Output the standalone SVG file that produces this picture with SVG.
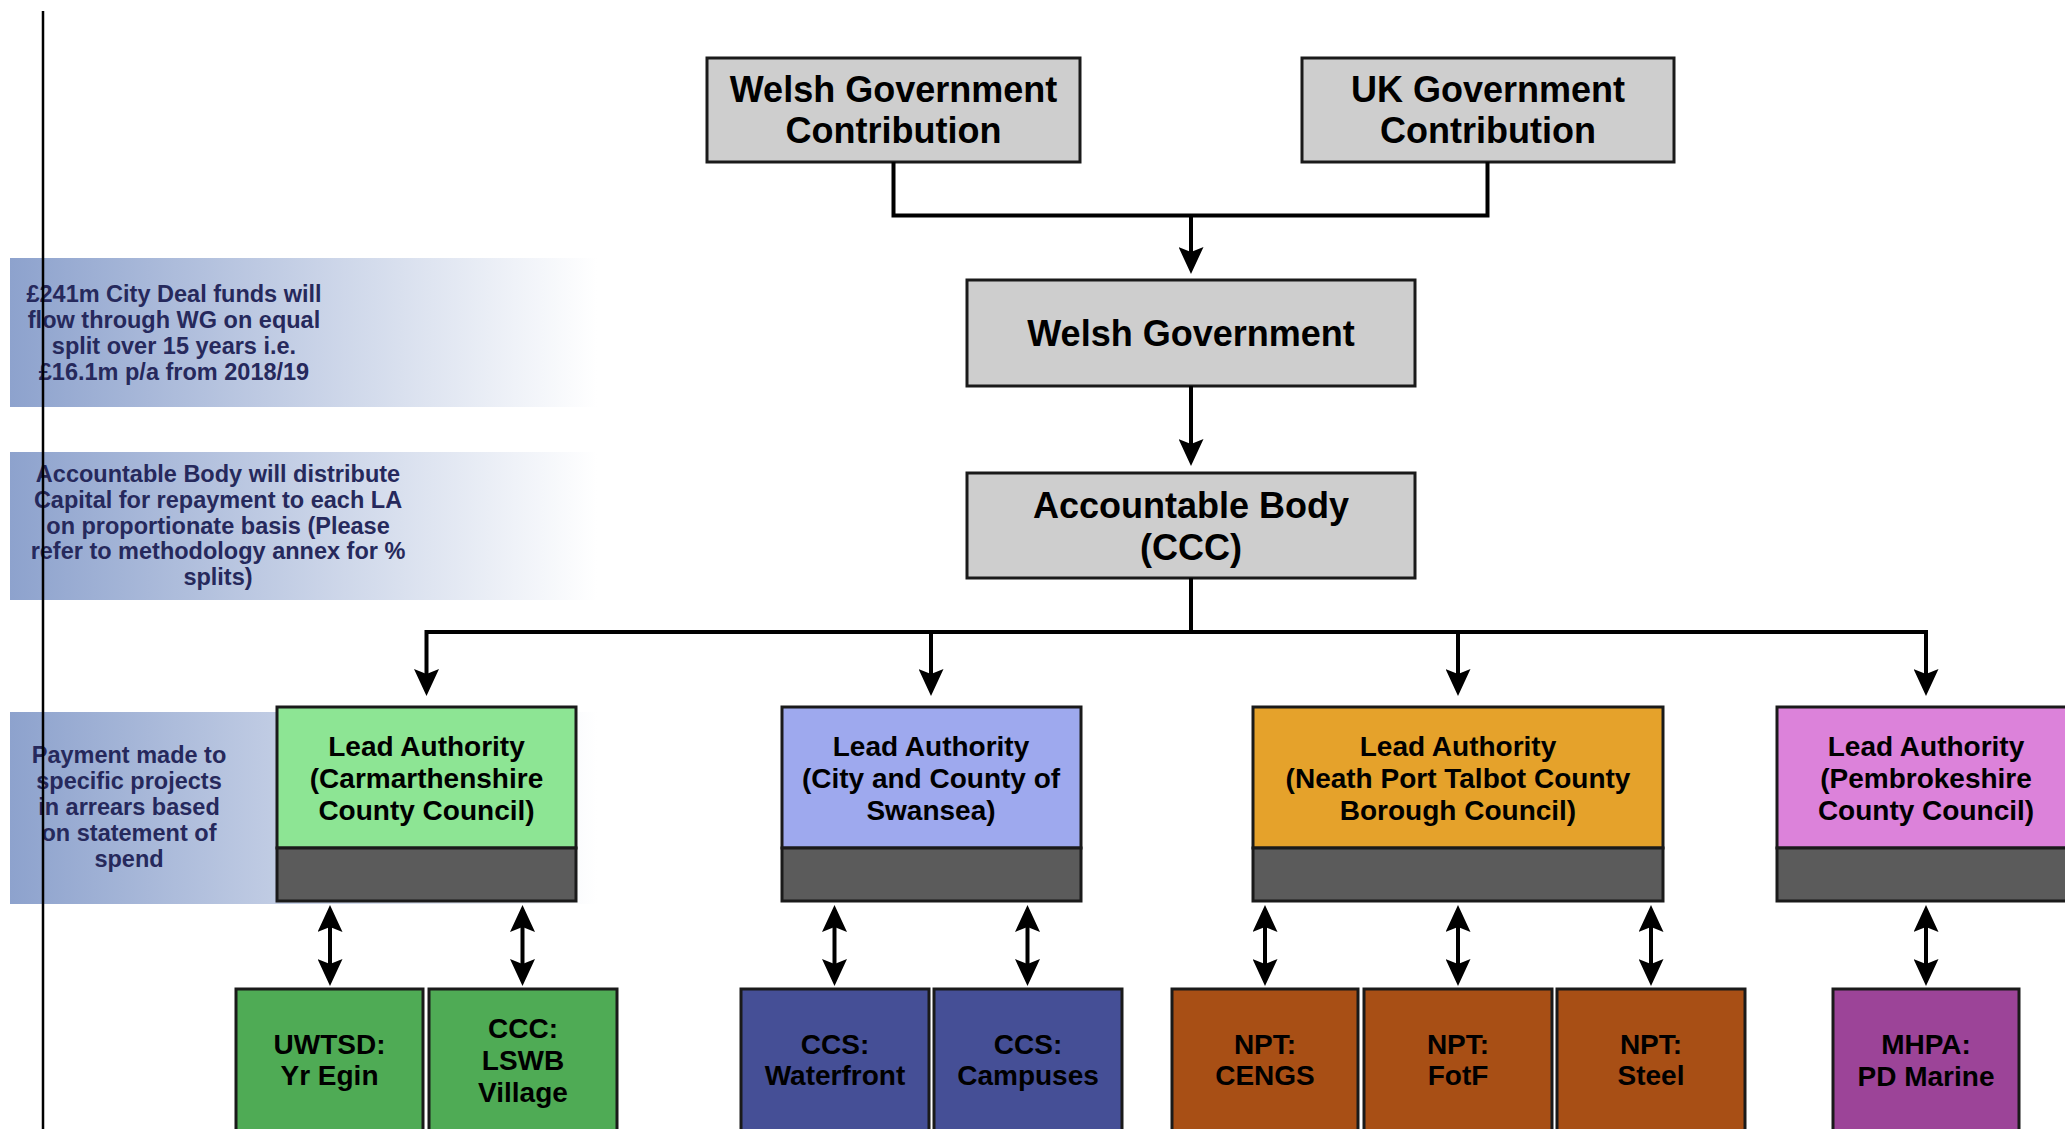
<svg xmlns="http://www.w3.org/2000/svg" width="2065" height="1129" viewBox="0 0 2065 1129">
<defs>
<linearGradient id="band" gradientUnits="userSpaceOnUse" x1="10" y1="0" x2="597" y2="0">
<stop offset="0" stop-color="#8da2cd"/>
<stop offset="1" stop-color="#ffffff"/>
</linearGradient>
<marker id="arr" viewBox="0 0 27 25" refX="7" refY="12.5" markerWidth="27" markerHeight="25" markerUnits="userSpaceOnUse" orient="auto-start-reverse">
<path d="M0,0 L27,12.5 L0,25 L5,12.5 Z" fill="#000"/>
</marker>
<style>
.t{font-family:"Liberation Sans",Arial,sans-serif;font-weight:bold;text-anchor:middle;fill:#000}
.big{font-size:36px}
.mid{font-size:28px}
.note{font-family:"Liberation Sans",Arial,sans-serif;font-weight:bold;text-anchor:middle;font-size:23.5px;fill:#26295c}
.gray{fill:#cecece;stroke:#1a1a1a;stroke-width:3}
.box{stroke:#1a1a1a;stroke-width:3}
.bar{fill:#5b5b5b;stroke:#1a1a1a;stroke-width:3}
.con{fill:none;stroke:#000;stroke-width:4}
</style>
</defs>
<rect width="2065" height="1129" fill="#fff"/>

<g id="notes">
<rect x="10" y="258" width="587" height="149" fill="url(#band)"/>
<rect x="10" y="452" width="587" height="148" fill="url(#band)"/>
<rect x="10" y="712" width="587" height="192" fill="url(#band)"/>
<text class="note" x="174"><tspan x="174" y="302">£241m City Deal funds will</tspan><tspan x="174" y="328">flow through WG on equal</tspan><tspan x="174" y="354">split over 15 years i.e.</tspan><tspan x="174" y="380">£16.1m p/a from 2018/19</tspan></text>
<text class="note" x="218"><tspan x="218" y="482">Accountable Body will distribute</tspan><tspan x="218" y="508">Capital for repayment to each LA</tspan><tspan x="218" y="534">on proportionate basis (Please</tspan><tspan x="218" y="559">refer to methodology annex for %</tspan><tspan x="218" y="585">splits)</tspan></text>
<text class="note" x="129"><tspan x="129" y="763">Payment made to</tspan><tspan x="129" y="789">specific projects</tspan><tspan x="129" y="815">in arrears based</tspan><tspan x="129" y="841">on statement of</tspan><tspan x="129" y="867">spend</tspan></text>
</g>

<g id="wg-contribution">
<rect class="gray" x="707" y="58" width="373" height="104"/>
<text class="t big"><tspan x="893.5" y="102">Welsh Government</tspan><tspan x="893.5" y="143">Contribution</tspan></text>
</g>
<g id="uk-contribution">
<rect class="gray" x="1302" y="58" width="372" height="104"/>
<text class="t big"><tspan x="1488" y="102">UK Government</tspan><tspan x="1488" y="143">Contribution</tspan></text>
</g>
<g id="welsh-government">
<rect class="gray" x="967" y="280" width="448" height="106"/>
<text class="t big" x="1191" y="346">Welsh Government</text>
</g>
<g id="accountable-body">
<rect class="gray" x="967" y="473" width="448" height="105"/>
<text class="t big"><tspan x="1191" y="518">Accountable Body</tspan><tspan x="1191" y="560">(CCC)</tspan></text>
</g>

<g id="la-carmarthenshire">
<rect class="box" x="277" y="707" width="299" height="141" fill="#8de594"/>
<rect class="bar" x="277" y="848" width="299" height="53"/>
<text class="t mid"><tspan x="426.5" y="756">Lead Authority</tspan><tspan x="426.5" y="788">(Carmarthenshire</tspan><tspan x="426.5" y="820">County Council)</tspan></text>
</g>
<g id="la-swansea">
<rect class="box" x="782" y="707" width="299" height="141" fill="#9ea9ee"/>
<rect class="bar" x="782" y="848" width="299" height="53"/>
<text class="t mid"><tspan x="931" y="756">Lead Authority</tspan><tspan x="931" y="788">(City and County of</tspan><tspan x="931" y="820">Swansea)</tspan></text>
</g>
<g id="la-npt">
<rect class="box" x="1253" y="707" width="410" height="141" fill="#e5a22b"/>
<rect class="bar" x="1253" y="848" width="410" height="53"/>
<text class="t mid"><tspan x="1458" y="756">Lead Authority</tspan><tspan x="1458" y="788">(Neath Port Talbot County</tspan><tspan x="1458" y="820">Borough Council)</tspan></text>
</g>
<g id="la-pembrokeshire">
<rect class="box" x="1777" y="707" width="299" height="141" fill="#dc82da"/>
<rect class="bar" x="1777" y="848" width="299" height="53"/>
<text class="t mid"><tspan x="1926" y="756">Lead Authority</tspan><tspan x="1926" y="788">(Pembrokeshire</tspan><tspan x="1926" y="820">County Council)</tspan></text>
</g>

<g id="uwtsd">
<rect class="box" x="236" y="989" width="187" height="160" fill="#4fab55"/>
<text class="t mid"><tspan x="329.5" y="1054">UWTSD:</tspan><tspan x="329.5" y="1085">Yr Egin</tspan></text>
</g>
<g id="ccc-lswb">
<rect class="box" x="429" y="989" width="188" height="160" fill="#4fab55"/>
<text class="t mid"><tspan x="523" y="1038">CCC:</tspan><tspan x="523" y="1070">LSWB</tspan><tspan x="523" y="1102">Village</tspan></text>
</g>
<g id="ccs-waterfront">
<rect class="box" x="741" y="989" width="188" height="160" fill="#454f96"/>
<text class="t mid"><tspan x="835" y="1054">CCS:</tspan><tspan x="835" y="1085">Waterfront</tspan></text>
</g>
<g id="ccs-campuses">
<rect class="box" x="934" y="989" width="188" height="160" fill="#454f96"/>
<text class="t mid"><tspan x="1028" y="1054">CCS:</tspan><tspan x="1028" y="1085">Campuses</tspan></text>
</g>
<g id="npt-cengs">
<rect class="box" x="1172" y="989" width="186" height="160" fill="#a84f15"/>
<text class="t mid"><tspan x="1265" y="1054">NPT:</tspan><tspan x="1265" y="1085">CENGS</tspan></text>
</g>
<g id="npt-fotf">
<rect class="box" x="1364" y="989" width="188" height="160" fill="#a84f15"/>
<text class="t mid"><tspan x="1458" y="1054">NPT:</tspan><tspan x="1458" y="1085">FotF</tspan></text>
</g>
<g id="npt-steel">
<rect class="box" x="1557" y="989" width="188" height="160" fill="#a84f15"/>
<text class="t mid"><tspan x="1651" y="1054">NPT:</tspan><tspan x="1651" y="1085">Steel</tspan></text>
</g>
<g id="mhpa">
<rect class="box" x="1833" y="989" width="186" height="160" fill="#9c4498"/>
<text class="t mid"><tspan x="1926" y="1054">MHPA:</tspan><tspan x="1926" y="1086">PD Marine</tspan></text>
</g>

<g id="connectors">
<path class="con" d="M893.5,162 V215.5 H1487.5 V162"/>
<path class="con" d="M1191,215.5 V254" marker-end="url(#arr)"/>
<path class="con" d="M1191,386 V446" marker-end="url(#arr)"/>
<path class="con" d="M1191,578 V632"/>
<path class="con" d="M426.5,676 V632 H1926 V676" marker-start="url(#arr)" marker-end="url(#arr)"/>
<path class="con" d="M931,632 V676" marker-end="url(#arr)"/>
<path class="con" d="M1458,632 V676" marker-end="url(#arr)"/>
<path class="con" d="M330,925 V966" marker-start="url(#arr)" marker-end="url(#arr)"/>
<path class="con" d="M522.5,925 V966" marker-start="url(#arr)" marker-end="url(#arr)"/>
<path class="con" d="M834.5,925 V966" marker-start="url(#arr)" marker-end="url(#arr)"/>
<path class="con" d="M1027.5,925 V966" marker-start="url(#arr)" marker-end="url(#arr)"/>
<path class="con" d="M1265,925 V966" marker-start="url(#arr)" marker-end="url(#arr)"/>
<path class="con" d="M1458,925 V966" marker-start="url(#arr)" marker-end="url(#arr)"/>
<path class="con" d="M1651,925 V966" marker-start="url(#arr)" marker-end="url(#arr)"/>
<path class="con" d="M1926,925 V966" marker-start="url(#arr)" marker-end="url(#arr)"/>
</g>

<line x1="43" y1="11" x2="43" y2="1129" stroke="#000" stroke-width="2.5"/>
</svg>
